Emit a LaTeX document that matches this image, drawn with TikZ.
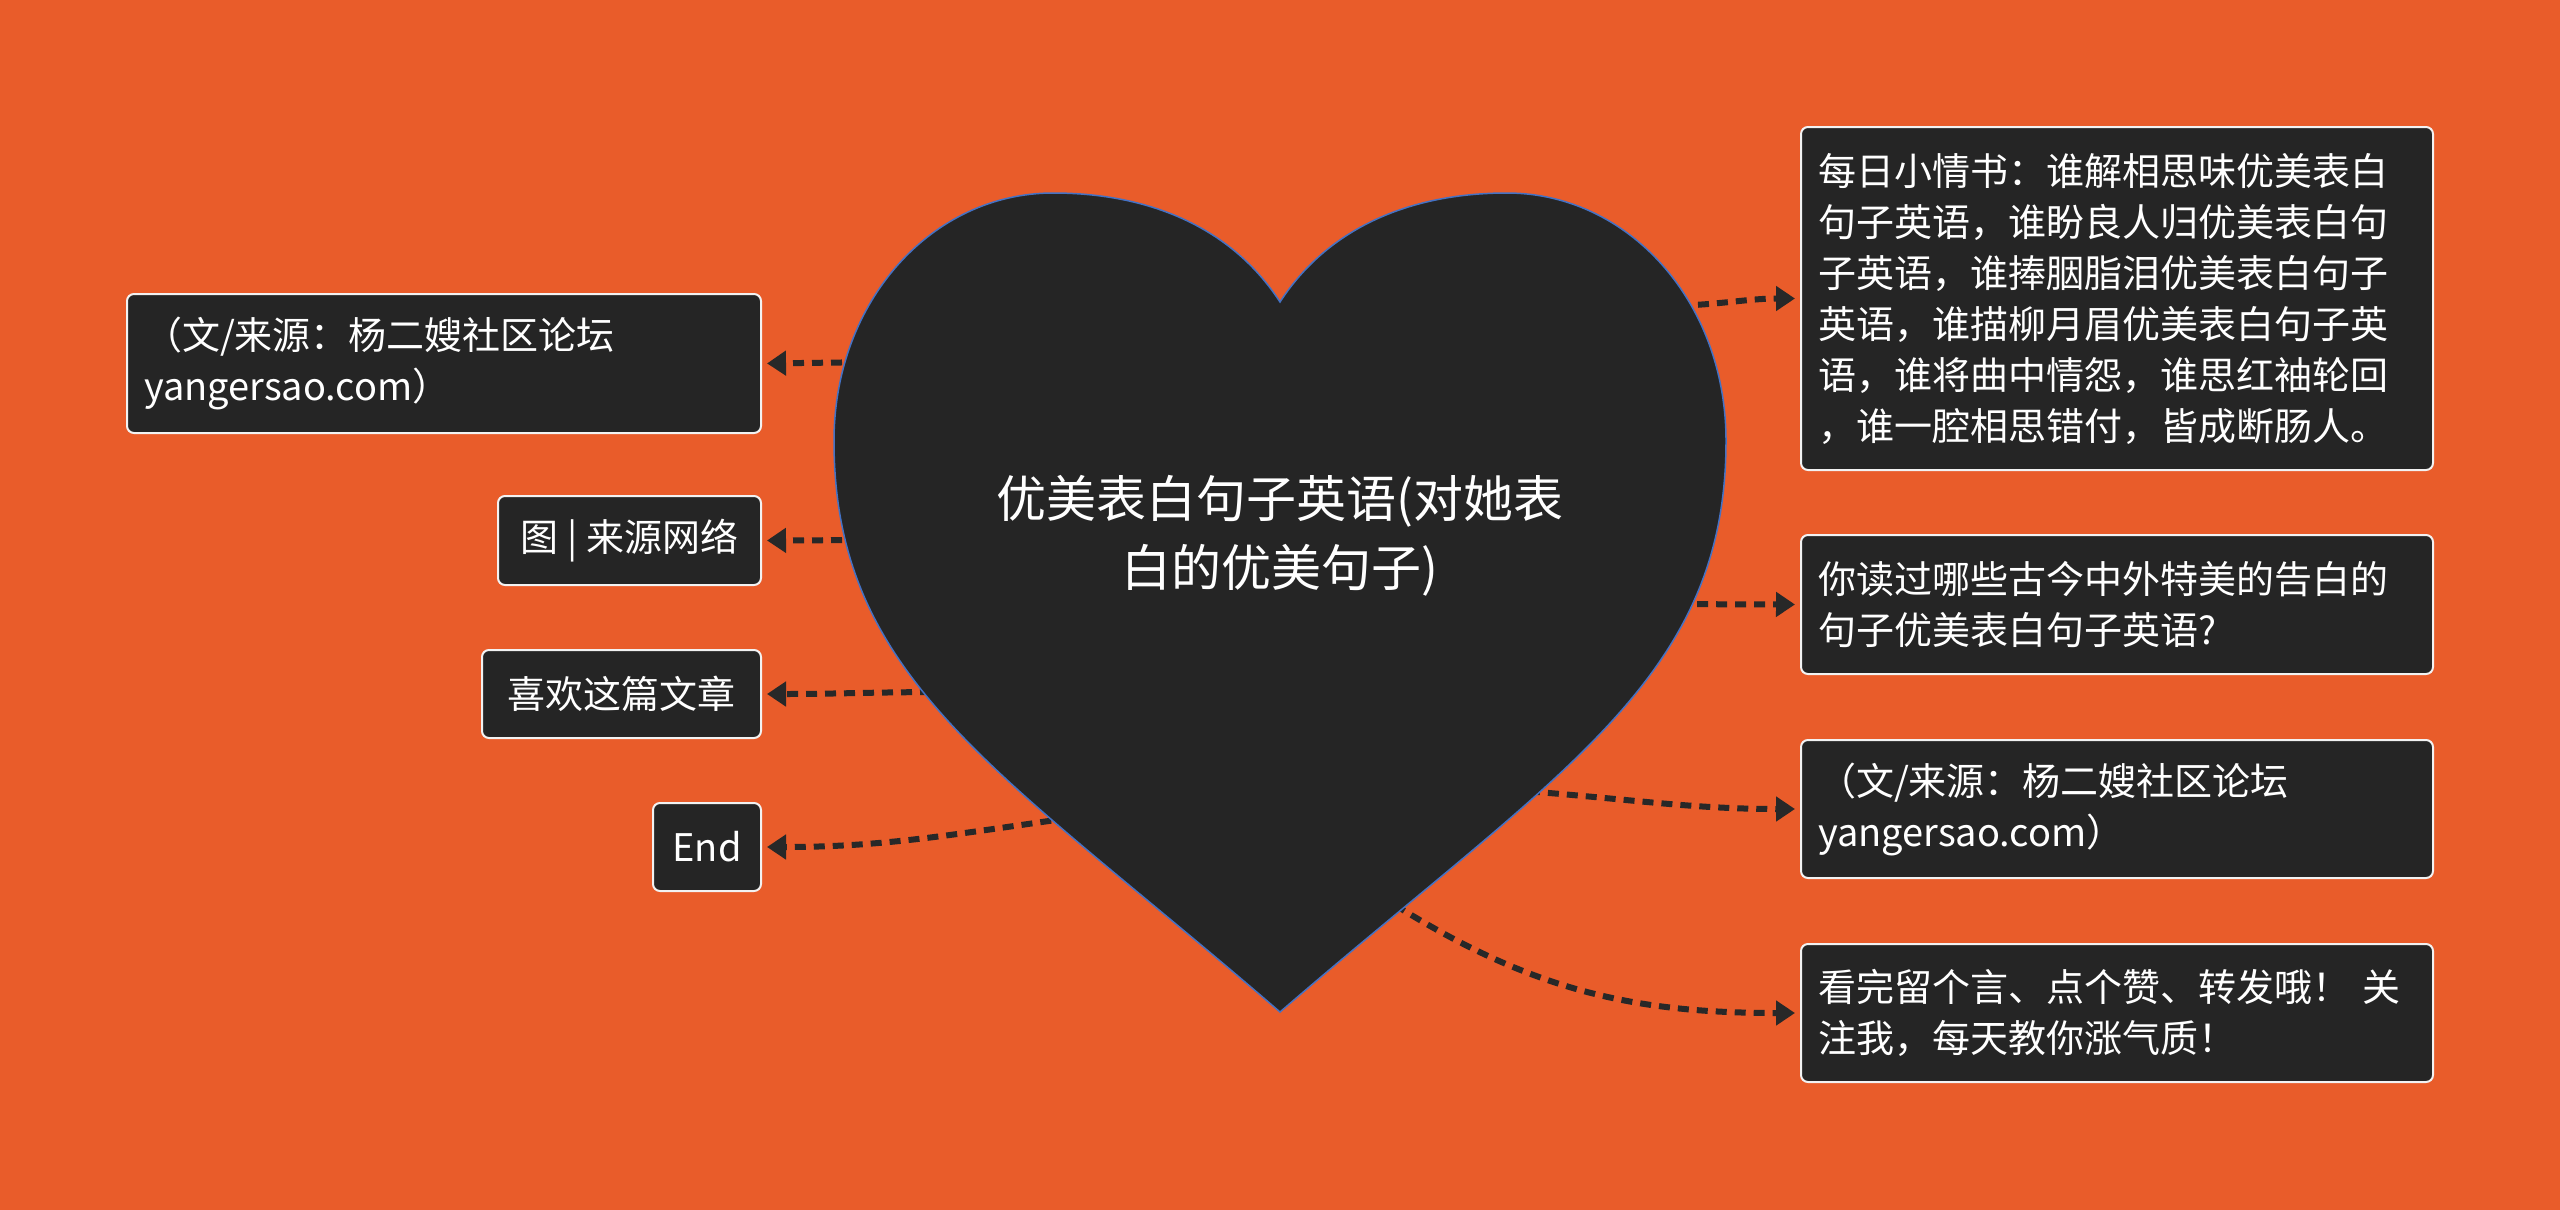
\documentclass[tikz,border=0pt]{standalone}
\usepackage{fontspec}
\setmainfont{Noto Sans CJK SC}
\usetikzlibrary{arrows.meta}
\definecolor{bgorange}{RGB}{233,92,42}
\definecolor{boxfill}{RGB}{37,37,37}
\definecolor{heartblue}{RGB}{68,114,196}
\definecolor{linkcol}{RGB}{40,40,40}
\begin{document}
\begin{tikzpicture}[x=1pt,y=-1pt,
  box/.style={draw=white!95!black, line width=2pt, fill=boxfill, rounded corners=7pt,
    text=white, font=\fontsize{38}{51}\selectfont, inner xsep=17pt, inner ysep=0pt},
  mbox/.style={box, align=left},
  link/.style={draw=linkcol, line width=6pt, dash pattern=on 11pt off 8pt,
    -{Triangle[length=19pt,width=24pt]}, shorten >=5pt}]
\fill[bgorange] (0,0) rectangle (2560,1210);
\useasboundingbox (0,0) rectangle (2560,1210);

% boxes
\node[mbox, text width=598pt, minimum height=343pt] (r1) at (2117,298.5)
 {每日小情书：谁解相思味优美表白\\句子英语，谁盼良人归优美表白句\\子英语，谁捧胭脂泪优美表白句子\\英语，谁描柳月眉优美表白句子英\\语，谁将曲中情怨，谁思红袖轮回\\，谁一腔相思错付，皆成断肠人。};
\node[mbox, text width=598pt, minimum height=139pt] (r2) at (2117,604.5)
 {你读过哪些古今中外特美的告白的\\句子优美表白句子英语?};
\node[mbox, text width=598pt, minimum height=138pt] (r3) at (2117,809)
 {（文/来源：杨二嫂社区论坛\\yangersao.com）};
\node[mbox, text width=598pt, minimum height=138pt] (r4) at (2117,1013)
 {看完留个言、点个赞、转发哦！ 关\\注我，每天教你涨气质！};
\node[mbox, text width=600pt, minimum height=139pt] (l1) at (444,363.5)
 {（文/来源：杨二嫂社区论坛\\yangersao.com）};
\node[box, minimum width=263pt, minimum height=89pt] (l2) at (629.5,540.5) {图 | 来源网络};
\node[box, minimum width=279pt, minimum height=88pt] (l3) at (621.5,694) {喜欢这篇文章};
\node[box, minimum width=108pt, minimum height=88pt] (l4) at (707,847) {End};

% connector start points (under the heart)
\coordinate (hr1) at (1660,306);
\coordinate (hr2) at (1640,604);
\coordinate (hr3) at (1510,790);
\coordinate (hr4) at (1395,905);
\coordinate (hl1) at (880,362);
\coordinate (hl2) at (880,540);
\coordinate (hl3) at (950,692);
\coordinate (hl4) at (1070,818);

\draw[link] (hr1) to[out=0,in=180] (r1.west);
\draw[link] (hr2) -- (r2.west);
\draw[link] (hr3) to[out=-4,in=180] (r3.west);
\draw[link] (hr4) to[out=-32,in=180] (r4.west);
\draw[link] (hl1) -- (l1.east);
\draw[link] (hl2) -- (l2.east);
\draw[link] (hl3) to[out=180,in=0] (l3.east);
\draw[link] (hl4) to[out=188,in=0] (l4.east);

% heart
\draw[fill=boxfill, draw=heartblue, line width=1.5pt]
  (1280,302)
  .. controls (1232,228) and (1150,193) .. (1053,193)
  .. controls (933,193) and (834,300) .. (834,441)
  .. controls (834,680) and (1000,770) .. (1280,1012)
  .. controls (1560,770) and (1726,680) .. (1726,441)
  .. controls (1726,300) and (1627,193) .. (1507,193)
  .. controls (1410,193) and (1328,228) .. (1280,302) -- cycle;
\node[text=white, align=center, font=\fontsize{50}{69}\selectfont] (center) at (1280,536)
 {优美表白句子英语(对她表\\白的优美句子)};
\end{tikzpicture}
\end{document}
